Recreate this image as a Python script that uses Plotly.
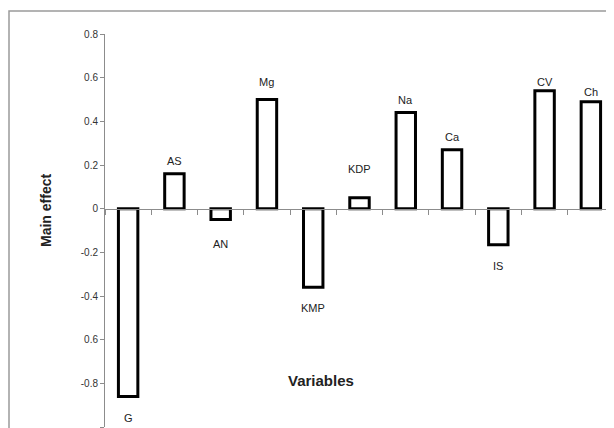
import plotly.graph_objects as go

variables = ["G", "AS", "AN", "Mg", "KMP", "KDP", "Na", "Ca", "IS", "CV", "Ch"]
main_effect = [-0.86, 0.16, -0.05, 0.50, -0.36, 0.05, 0.44, 0.27, -0.165, 0.54, 0.49]

y_tickvals = [0.8, 0.6, 0.4, 0.2, 0, -0.2, -0.4, -0.6, -0.8, -1]
y_ticktext = ["0.8", "0.6", "0.4", "0.2", "0", "-0.2", "-0.4", "0.6", "-0.8", "-1"]

# label offsets in px (layout only)
label_shift = {"G": 14, "AS": 5, "AN": 16, "Mg": 10, "KMP": 13, "KDP": 21,
               "Na": 5, "Ca": 5, "IS": 13, "CV": 1, "Ch": 2}

# page body has an 8px margin, so the figure is drawn 8px in from the corner
OFF = 8
W, H = 614 - OFF, 428 - OFF
L, T = 105 - OFF, 34 - OFF
R, B = 0, 1
pw, ph = W - L - R, H - T - B


def px_x(x):
    return (x - OFF - L) / pw


def px_y(y):
    return 1 - (y - OFF - T) / ph


fig = go.Figure()
fig.add_trace(go.Bar(
    x=variables, y=main_effect,
    marker=dict(color="white", line=dict(color="black", width=3)),
    width=0.42,
    showlegend=False,
))

for v, val in zip(variables, main_effect):
    pos = val >= 0
    fig.add_annotation(
        x=v, y=val, text=v, showarrow=False,
        yanchor="bottom" if pos else "top",
        yshift=label_shift[v] if pos else -label_shift[v],
        font=dict(size=11, color="#222"),
    )

# axis titles
fig.add_annotation(
    xref="paper", yref="paper", x=px_x(46), y=px_y(211),
    xanchor="center", yanchor="middle",
    text="<b>Main effect</b>", textangle=-90, showarrow=False,
    font=dict(size=14, color="#222"),
)
fig.add_annotation(
    xref="paper", yref="paper", x=px_x(321), y=px_y(380),
    xanchor="center", yanchor="middle",
    text="<b>Variables</b>", showarrow=False,
    font=dict(size=15, color="#222"),
)

# chart border
fig.add_shape(
    type="rect", xref="paper", yref="paper",
    x0=px_x(9), x1=1.05, y0=-0.1, y1=px_y(11),
    line=dict(color="#9a9a9a", width=1.5), layer="below",
)

fig.update_layout(
    width=W, height=H,
    margin=dict(l=L, r=R, t=T, b=B),
    paper_bgcolor="white", plot_bgcolor="white",
    font=dict(family="Liberation Sans, Arial, sans-serif"),
    xaxis=dict(
        type="category", anchor="free", position=1 / 1.8,
        showline=True, linecolor="#8c8c8c", linewidth=1,
        ticks="outside", ticklen=5, tickcolor="#8c8c8c",
        tickson="boundaries", showticklabels=False, showgrid=False,
        range=[-0.5, 10.5],
    ),
    yaxis=dict(
        range=[-1, 0.8], tickvals=y_tickvals, ticktext=y_ticktext,
        showline=True, linecolor="#8c8c8c", linewidth=1,
        ticks="outside", ticklen=4, tickcolor="#8c8c8c",
        showgrid=False, zeroline=False,
        tickfont=dict(size=10, color="#333"),
    ),
)

fig.write_html("out.html")
